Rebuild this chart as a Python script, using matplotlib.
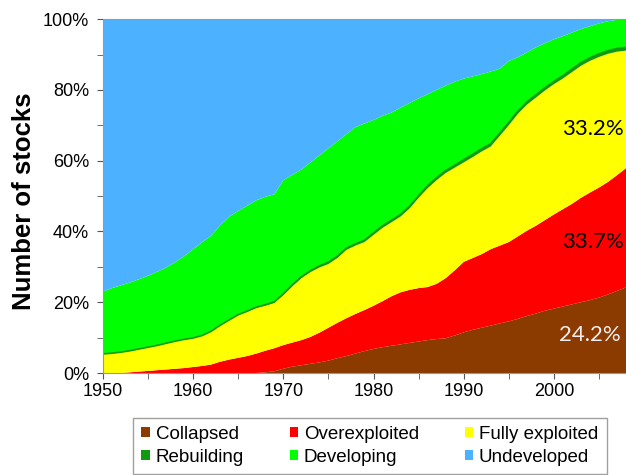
import numpy as np
import matplotlib.pyplot as plt
from matplotlib.ticker import MultipleLocator, PercentFormatter

# Years covered
years = list(range(1950, 2009))

# Cumulative share (%) at the top of each band
collapsed_top = [0, 0, 0, 0, 0, 0, 0, 0, 0, 0,
                 0, 0, 0, 0, 0, 0, 0, 0, 0.2, 0.5,
                 1.2, 1.8, 2.2, 2.6, 3.0, 3.5, 4.2, 4.8, 5.5, 6.2,
                 6.8, 7.3, 7.7, 8.1, 8.5, 8.9, 9.3, 9.6, 9.8, 10.6,
                 11.5, 12.2, 12.8, 13.4, 14.0, 14.6, 15.3, 16.1, 16.8, 17.6,
                 18.2, 18.8, 19.4, 20.0, 20.6, 21.3, 22.2, 23.2, 24.2]

overexploited_top = [0, 0, 0, 0.2, 0.4, 0.6, 0.8, 1.0, 1.2, 1.4,
                     1.7, 2.0, 2.4, 3.2, 3.8, 4.3, 4.8, 5.5, 6.3, 7.0,
                     7.9, 8.6, 9.3, 10.2, 11.4, 12.8, 14.2, 15.5, 16.7, 17.8,
                     19.0, 20.3, 21.7, 22.8, 23.5, 24.0, 24.3, 25.2, 26.8, 29.0,
                     31.4, 32.5, 33.6, 35.0, 36.0, 37.0, 38.6, 40.2, 41.6, 43.2,
                     44.8, 46.3, 47.8, 49.5, 51.0, 52.4, 54.0, 55.9, 57.9]

fully_top = [5.4, 5.6, 5.9, 6.3, 6.8, 7.3, 7.8, 8.4, 9.0, 9.5,
             9.9, 10.6, 11.8, 13.5, 15.0, 16.3, 17.3, 18.4, 19.0, 19.8,
             22.0, 24.5, 26.8, 28.5, 29.8, 30.8, 32.5, 34.8, 36.0, 37.0,
             39.0, 41.0, 42.6, 44.2, 46.5, 49.5, 52.2, 54.5, 56.5, 58.0,
             59.5, 61.0, 62.6, 64.0, 67.0, 70.0, 73.2, 75.8, 77.8, 79.8,
             81.6, 83.2, 85.0, 86.8, 88.2, 89.3, 90.2, 90.8, 91.1]

rebuilding = [0, 0, 0, 0, 0, 0, 0, 0, 0, 0,
              0, 0, 0, 0, 0, 0.2, 0.2, 0.2, 0.3, 0.3,
              0.4, 0.4, 0.4, 0.4, 0.5, 0.5, 0.5, 0.5, 0.5, 0.5,
              0.6, 0.6, 0.6, 0.6, 0.6, 0.6, 0.7, 0.7, 0.7, 0.7,
              0.8, 0.8, 0.8, 0.8, 0.8, 0.8, 0.8, 0.8, 0.8, 0.8,
              0.8, 0.8, 0.9, 0.9, 0.9, 0.9, 0.9, 0.9, 0.9]

developing_top = [23.0, 24.0, 24.8, 25.6, 26.5, 27.5, 28.6, 29.8, 31.3, 33.0,
                  35.0, 37.0, 38.8, 41.8, 44.2, 45.8, 47.3, 48.8, 49.8, 50.5,
                  54.5, 56.0, 57.5, 59.5, 61.5, 63.5, 65.5, 67.5, 69.5, 70.5,
                  71.5, 72.7, 73.6, 75.0, 76.3, 77.6, 78.8, 80.0, 81.2, 82.3,
                  83.2, 83.8, 84.5, 85.2, 86.0, 88.2, 89.2, 90.6, 92.0, 93.2,
                  94.3, 95.2, 96.2, 97.2, 98.0, 98.8, 99.4, 99.8, 100.0]

labels = ["Collapsed", "Overexploited", "Fully exploited",
          "Rebuilding", "Developing", "Undeveloped"]
colors = ["#8b3a00", "#ff0000", "#ffff00", "#109a10", "#00ff00", "#4cb2ff"]

# turn boundaries into band heights
c = np.array(collapsed_top)
o = np.array(overexploited_top)
f = np.array(fully_top)
r = f + np.array(rebuilding)
d = np.array(developing_top)
bands = [c, o - c, f - o, r - f, d - r, 100 - d]

plt.rcParams['font.family'] = ['Liberation Sans', 'DejaVu Sans']

fig = plt.figure(figsize=(6.26, 4.75), dpi=100)
ax = fig.add_axes([0.1645, 0.2147, 0.8355, 0.745])

polys = ax.stackplot(years, bands, colors=colors, labels=labels, linewidth=0)
# dark green edge along the rebuilding band
ax.plot(years, r, color="#109a10", lw=1.2)

ax.set_xlim(1950, 2008)
ax.set_ylim(0, 100)
ax.xaxis.set_major_locator(MultipleLocator(10))
ax.xaxis.set_minor_locator(MultipleLocator(5))
ax.yaxis.set_major_locator(MultipleLocator(20))
ax.yaxis.set_minor_locator(MultipleLocator(10))
ax.yaxis.set_major_formatter(PercentFormatter(decimals=0))
ax.tick_params(which="both", length=4, color="#555555", labelsize=13)
ax.tick_params(axis="y", pad=6)
ax.tick_params(axis="x", pad=3)
for s in ax.spines.values():
    s.set_color("#999999")
ax.spines["right"].set_visible(False)

ax.set_ylabel("Number of stocks", fontsize=18.5, fontweight="bold")
ax.yaxis.set_label_coords(-0.128, 0.486)

# end-of-series shares
ax.text(2007.8, 69, "33.2%", ha="right", va="center", fontsize=16,
        family=["Lato", "DejaVu Sans"], color="black")
ax.text(2007.8, 37, "33.7%", ha="right", va="center", fontsize=16,
        family=["Lato", "DejaVu Sans"], color="black")
ax.text(2007.4, 10.7, "24.2%", ha="right", va="center", fontsize=16,
        family=["Lato", "DejaVu Sans"], color="#f4eeee")

# legend is filled column by column
order = [0, 3, 1, 4, 2, 5]
leg = fig.legend([polys[i] for i in order], [labels[i] for i in order],
                 ncol=3, loc="lower left", bbox_to_anchor=(0.2125, 0.002),
                 frameon=True, fancybox=False, fontsize=13.5,
                 handlelength=0.45, handleheight=0.45, handletextpad=0.3,
                 columnspacing=2.45, labelspacing=0.3, borderpad=0.45,
                 borderaxespad=0)
leg.get_frame().set_edgecolor("#888888")
leg.get_frame().set_linewidth(1.0)

fig.savefig("out.png", dpi=100)
